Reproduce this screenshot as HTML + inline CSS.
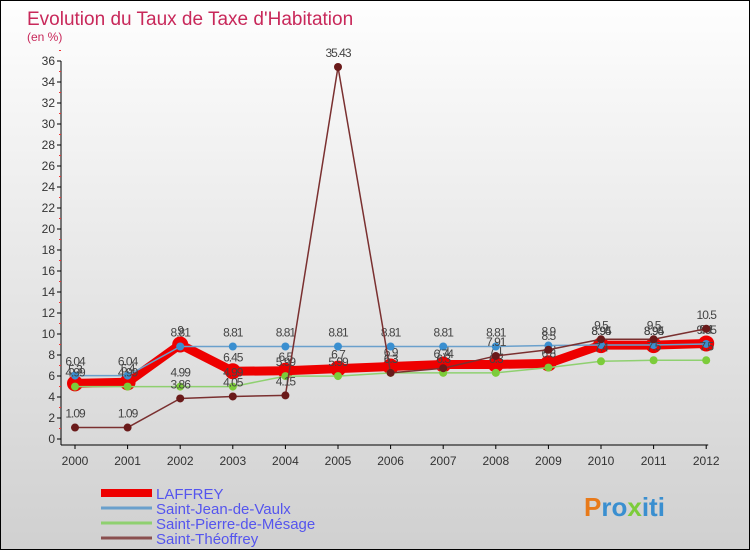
<!DOCTYPE html>
<html><head><meta charset="utf-8"><style>
body{margin:0}
#wrap{position:relative;width:748px;height:548px;border:1px solid #000;background:linear-gradient(#fefefe,#d0d0d0);font-family:"Liberation Sans",sans-serif;overflow:hidden}
</style></head><body>
<div id="wrap">
<svg id="c" width="748" height="548"></svg>
</div>
<script>
const years=["2000","2001","2002","2003","2004","2005","2006","2007","2008","2009","2010","2011","2012"];
const yTicks=[0,2,4,6,8,10,12,14,16,18,20,22,24,26,28,30,32,34,36];
const laffrey=[5.3,5.4,9,6.45,6.5,6.7,6.9,7.1,7.1,7.2,8.94,8.94,9.1];
const stJean=[6.04,6.04,8.81,8.81,8.81,8.81,8.81,8.81,8.81,8.9,8.95,8.95,9.05];
const stPierre=[4.99,4.99,4.99,4.99,5.99,5.99,6.3,6.3,6.3,6.8,7.4,7.5,7.5];
const stTheo=[1.09,1.09,3.86,4.05,4.15,35.43,6.3,6.74,7.91,8.5,9.5,9.5,10.5];
const NS="http://www.w3.org/2000/svg";
const svg=document.getElementById('c');
const X=i=>74+i*52.6;
const Y=v=>438-v*10.5;
function mk(t,a,p){const e=document.createElementNS(NS,t);for(const k in a)e.setAttribute(k,a[k]);(p||svg).appendChild(e);return e;}
let t=mk('text',{x:26,y:24,fill:'#c8285a','font-size':19});t.textContent="Evolution du Taux de Taxe d'Habitation";


t=mk('text',{x:26,y:40,fill:'#c8285a','font-size':12});t.textContent="(en %)";


let ax=mk('line',{x1:60,y1:Y(36),x2:60,y2:Y(0)+6,stroke:'#000'});


ax=mk('line',{x1:60,y1:Y(0)+6,x2:X(12)+2,y2:Y(0)+6,stroke:'#000'});


yTicks.forEach(v=>{
 mk('line',{x1:56,y1:Y(v),x2:60,y2:Y(v),stroke:'#000'});
 mk('line',{x1:58,y1:Y(v+1),x2:60,y2:Y(v+1),stroke:'#e33'});
 const l=mk('text',{x:54,y:Y(v)+4,'text-anchor':'end','font-size':12,fill:'#333'});l.textContent=v;
 
 
});
years.forEach((y,i)=>{
 mk('line',{x1:X(i),y1:Y(0)+6,x2:X(i),y2:Y(0)+10,stroke:'#000'});
 const l=mk('text',{x:X(i),y:Y(0)+26,'text-anchor':'middle','font-size':12,fill:'#333'});l.textContent=y;
 
 
});
function series(d,color,w,r,name,dot){
 const g=mk('g',{});
 
 
 mk('polyline',{points:d.map((v,i)=>X(i)+','+Y(v)).join(' '),fill:'none',stroke:color,'stroke-width':w,'stroke-linejoin':'round'},g);
 d.forEach((v,i)=>{
  const c=mk('circle',{cx:X(i),cy:Y(v),r:r,fill:dot},g);
  
  
  const l=mk('text',{x:X(i),y:Y(v)-10,'text-anchor':'middle','font-size':12,fill:'#444','letter-spacing':'-1'},g);l.textContent=v;
  
  
 });
}
series(laffrey,'#ee0000',9,8,'laffrey-series','#ee0000');
series(stJean,'#6aa0cc',1.5,4,'saint-jean-series','#3a8fd0');
series(stPierre,'#8fd070',1.5,4,'saint-pierre-series','#7ccc3a');
series(stTheo,'#7a3030',1.5,4,'saint-theoffrey-series','#6a1a1a');
const leg=[['LAFFREY','#ee0000',8],['Saint-Jean-de-Vaulx','#6aa0cc',3],['Saint-Pierre-de-Mésage','#8fd070',3],['Saint-Théoffrey','#8a5050',3]];
leg.forEach((l,i)=>{
 const y=492+i*15;
 const g=mk('g',{});
 
 
 mk('line',{x1:100,y1:y,x2:151,y2:y,stroke:l[1],'stroke-width':l[2]},g);
 const tx=mk('text',{x:155,y:y+6,'font-size':15,fill:'#5555ee'},g);tx.textContent=l[0];
});
const lg=mk('text',{x:583,y:515,'font-size':26,'font-weight':'bold',fill:'#3a8fd0'});
lg.innerHTML='<tspan fill="#e87a1a">P</tspan>ro<tspan fill="#7ccc3a">x</tspan>iti';


</script>
</body></html>
